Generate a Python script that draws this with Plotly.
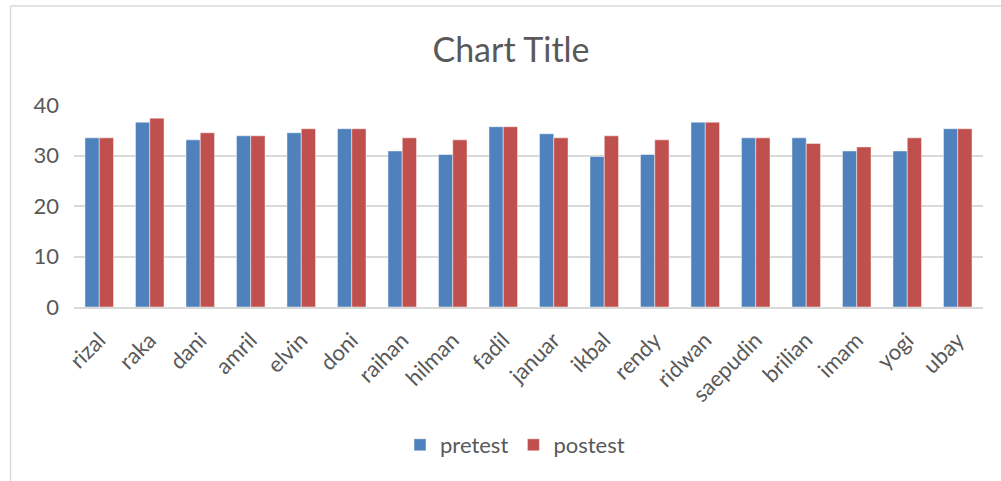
import plotly.graph_objects as go

names = ["rizal", "raka", "dani", "amril", "elvin", "doni", "raihan", "hilman", "fadil",
         "januar", "ikbal", "rendy", "ridwan", "saepudin", "brilian", "imam", "yogi", "ubay"]
pretest = [33.5, 36.6, 33.1, 33.9, 34.5, 35.3, 30.9, 30.2, 35.7,
           34.3, 29.8, 30.2, 36.6, 33.5, 33.5, 30.9, 30.9, 35.3]
postest = [33.5, 37.4, 34.5, 33.9, 35.3, 35.3, 33.5, 33.1, 35.7,
           33.5, 33.9, 33.1, 36.6, 33.5, 32.4, 31.7, 33.5, 35.3]
y_ticks = [0, 10, 20, 30, 40]

FONT = "Lato"
TXT = "#595959"

fig = go.Figure()
fig.add_trace(go.Bar(x=names, y=pretest, name="pretest",
                     marker=dict(color="#4F81BD", line=dict(color="rgba(255,255,255,0.6)", width=0.8))))
fig.add_trace(go.Bar(x=names, y=postest, name="postest",
                     marker=dict(color="#C0504D", line=dict(color="rgba(255,255,255,0.6)", width=0.8))))

L, R, T, B = 74, 18, 105, 174
W, H = 1001, 481
pw, ph = W - L - R, H - T - B

def px(x):
    return (x - L) / pw

def py(y):
    return (H - B - y) / ph

fig.update_layout(
    width=W, height=H,
    margin=dict(l=L, r=R, t=T, b=B, autoexpand=False),
    paper_bgcolor="white", plot_bgcolor="white",
    barmode="group", bargap=0.434, bargroupgap=0,
    title=dict(text="Chart Title", x=px(511), xanchor="center", xref="paper",
               y=1 - 50 / H, yanchor="middle", yref="container",
               font=dict(family=FONT, size=34, color=TXT)),
    font=dict(family=FONT, size=22, color=TXT),
    legend=dict(orientation="h", x=px(515), xanchor="center", y=py(445), yanchor="middle",
                font=dict(family=FONT, size=22, color=TXT), itemwidth=30,
                traceorder="normal"),
    xaxis=dict(tickangle=-45, tickfont=dict(family=FONT, size=22, color=TXT),
               showgrid=False, showline=True, linecolor="#D9D9D9", linewidth=1.5,
               ticks="", ticklabelstandoff=10),
    yaxis=dict(range=[0, 40], tickvals=y_ticks, showgrid=True, gridcolor="#D9D9D9",
               gridwidth=1.5, zeroline=False, showline=False, ticks="",
               ticklabelstandoff=14,
               tickfont=dict(family=FONT, size=22, color=TXT)),
    shapes=[
        dict(type="line", xref="paper", yref="paper", x0=px(10.5), x1=px(1001), y0=py(6), y1=py(6),
             line=dict(color="#D9D9D9", width=1.5)),
        dict(type="line", xref="paper", yref="paper", x0=px(10.5), x1=px(10.5), y0=py(6), y1=py(481),
             line=dict(color="#D9D9D9", width=1.5)),
    ],
)

fig.write_html("out.html", config={"displayModeBar": False},
               post_script="document.body.style.margin='0';")
